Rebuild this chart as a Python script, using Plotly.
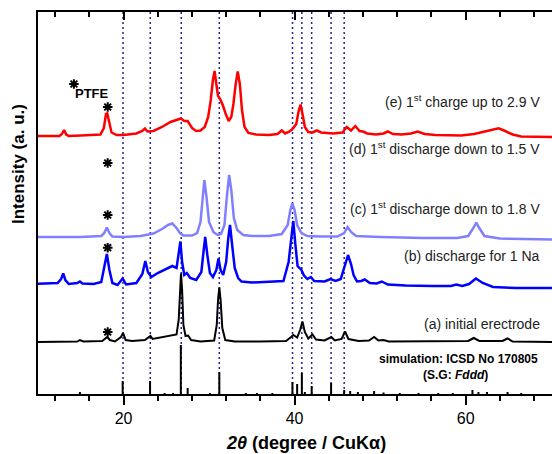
import plotly.graph_objects as go

# ---------------- data (2theta in degrees, intensity in a.u.) ----------------
e_x = [10, 12.5, 12.8, 13.05, 13.3, 13.6, 15, 17.3, 17.7, 17.95, 18.1, 18.3, 18.6, 19.2, 20, 21.5, 22.2, 22.5,
       22.8, 23.5, 24.5, 25.5, 26.0, 26.7, 27.1, 27.5, 28.0, 28.5, 29.0, 29.5, 29.9, 30.2, 30.45, 30.65, 30.85,
       31.05, 31.3, 31.6, 31.95, 32.3, 32.6, 32.85, 33.1, 33.35, 33.6, 33.85, 34.15, 34.6, 35.5, 37, 38.0, 38.5,
       38.9, 39.3, 39.7, 40.2, 40.45, 40.7, 40.95, 41.2, 41.6, 42.1, 42.6, 43.1, 44.5, 45.6, 46.1, 46.6, 47.1,
       47.6, 48.0, 48.5, 49.5, 50.4, 50.9, 51.5, 52.5, 53.6, 54.4, 55.2, 56.5, 58, 59.5, 61, 62, 63, 63.85,
       64.5, 65.5, 66.5, 68, 70.1]
e_y = [258, 258, 260, 264, 259.5, 258, 258.5, 259.5, 266, 280, 280.5, 272, 261.5, 259, 259, 260.5, 263, 265.5,
       262.5, 263, 267, 272, 273.5, 275.5, 273, 273, 266, 263, 263.5, 267, 277, 294, 314, 323, 310,
       298, 295, 289, 280, 273, 277, 290, 309, 322.5, 310, 284, 267, 261, 259.5, 259, 260, 263.5,
       260.5, 262, 264.5, 270, 282, 289.5, 279, 267, 262, 261.5, 263.5, 261.5, 260.5, 261.5, 267, 263.5, 268,
       263, 262.5, 260.5, 259.5, 260.5, 262.5, 260, 259.5, 260.5, 262.5, 260, 259, 258.5, 258.5, 260, 262, 264.5, 265.7,
       263.5, 259.5, 257.5, 257, 257]

c_x = [10, 15, 17.4, 17.75, 18.05, 18.35, 18.7, 20, 22, 23.5, 24.5, 25.2, 25.7, 26.2, 26.6, 27.0, 28.0, 28.6,
       29.0, 29.25, 29.45, 29.7, 30.0, 30.5, 31.0, 31.4, 31.8, 32.1, 32.35, 32.6, 32.9, 33.3, 34.0, 35, 37,
       38.5, 39.2, 39.5, 39.75, 40.0, 40.3, 40.8, 41.5, 43, 45, 45.8, 46.2, 46.6, 47.2, 50, 55, 59, 60.3,
       60.9, 61.25, 61.6, 62.2, 64, 70.1]
c_y = [157, 157, 158, 161, 166.5, 161, 157.5, 157, 158, 160.5, 165, 169, 170.5, 166, 161, 158.5, 158.5, 161,
       172, 199, 214, 197, 172, 162, 159, 160, 169, 199, 219, 204, 176, 164, 159, 158, 158,
       160, 169, 184, 190.5, 184, 169, 161, 158, 157.5, 157.5, 161, 167, 162, 158, 157, 156, 156, 158,
       166, 171.5, 166, 158, 155.5, 154.5]

b_x = [10, 12.3, 12.7, 12.95, 13.2, 13.6, 14.6, 14.9, 15.2, 16.5, 17.4, 17.75, 18.05, 18.35, 18.7, 19.3, 19.9,
       20.3, 21.5, 22.2, 22.55, 22.85, 23.25, 24.0, 25.0, 25.7, 26.2, 26.45, 26.65, 26.85, 27.1, 27.4, 27.8,
       28.5, 29.1, 29.35, 29.55, 29.8, 30.1, 30.45, 30.85, 31.1, 31.35, 31.65, 32.0, 32.25, 32.45, 32.7, 33.0,
       33.4, 33.8, 35, 37, 38.7, 39.3, 39.55, 39.85, 40.1, 40.35, 40.8, 41.1, 41.5, 41.9, 42.3, 43.5, 44.2,
       44.8, 45.4, 45.9, 46.25, 46.6, 46.9, 47.3, 47.8, 48.2, 48.8, 49.6, 50.2, 50.9, 53, 56, 58.3, 58.9,
       59.6, 60.4, 61.2, 62.0, 63.2, 66, 70.1]
b_y = [110.3, 111, 115, 120.5, 114, 110, 111, 112.5, 110.5, 110, 112, 126, 140, 124, 111, 109, 115.5,
       109.5, 111, 120, 133, 122, 117, 121, 125.5, 128, 126, 139, 152.5, 132, 119, 121, 116,
       114, 122, 142, 157, 139, 121, 117, 124, 135.5, 124, 119, 132, 156, 169, 149, 126,
       116, 112.5, 111.5, 112, 113, 132, 154, 173, 149, 128, 124, 118.5, 115, 117, 113, 112.5, 115,
       113, 115, 130, 139, 130, 119, 112.5, 113, 114.5, 111, 110.5, 112.5, 109.5, 108.5, 108, 108, 109.5,
       108, 110, 115.5, 111, 107, 106, 106]

a_x = [10, 12, 14.6, 14.9, 15.3, 17.5, 17.85, 18.1, 18.4, 19.0, 19.7, 19.95, 20.25, 21, 22.5, 22.9, 23.15,
       23.4, 24.5, 25.5, 26.2, 26.45, 26.6, 26.72, 26.85, 27.0, 27.25, 27.55, 27.9, 29, 30.6, 30.9, 31.05,
       31.2, 31.35, 31.55, 31.9, 33, 36, 39, 39.6, 39.85, 40.3, 40.65, 40.92, 41.2, 41.6, 42.1, 42.5, 43.5,
       44.3, 44.7, 45.5, 45.9, 46.3, 47.5, 48.7, 49.3, 49.8, 50.4, 51, 55, 60.3, 60.95, 61.6, 64.3, 64.9,
       65.5, 70.1]
a_y = [52, 52, 52.5, 54, 52.5, 53, 55.5, 57, 54, 52.5, 57, 61, 54, 53, 54, 56, 58,
       55, 56.5, 58, 59.5, 74, 109, 120.5, 104, 69, 58, 58.5, 54, 52.5, 53.5, 69, 94,
       106.5, 94, 66, 54, 52.5, 52.5, 53, 57, 59, 56.5, 64, 72.5, 62, 55.5, 59.5, 54.5, 53.5,
       57, 53.5, 55, 62.5, 55, 53, 53.5, 57, 53.5, 54, 52.5, 52.5, 53, 56, 53, 53, 55.5,
       52.5, 52]

# simulated pattern (ICSD 170805): stick positions and heights
sim_pos = [14.9, 19.9, 23.1, 24.8, 25.8, 26.7, 27.5, 30.1, 31.2, 34.3, 35.6, 37.4, 39.75, 40.3, 40.85, 41.2,
           42.0, 44.27, 45.8, 46.5, 47.4, 49.3, 50.4, 52.3, 54.5, 56.8, 58.5, 60.8, 61.5, 62.5, 64.9, 66.5]
sim_h = [2, 13, 13, 1, 1, 49, 6, 1, 22, 1, 1, 1, 12, 10, 21, 2,
         8, 11, 4, 3, 2, 3, 1.5, 1, 1, 1, 1, 4, 2, 2, 2, 1]

# reference reflections marked by dotted lines
ref_lines = [19.94, 23.13, 26.75, 31.2, 39.76, 40.85, 42.0, 44.27, 45.8]

# PTFE peak markers
ptfe_x = [18.15, 18.15, 18.15, 18.15, 18.15, 14.2]
ptfe_y = [287, 231, 179, 146.3, 62, 310]

labels = ["(e) 1<sup>st</sup> charge up to 2.9 V", "(d) 1<sup>st</sup> discharge down to 1.5 V",
          "(c) 1<sup>st</sup> discharge down to 1.8 V", "(b) discharge for 1 Na", "(a) initial erectrode"]
label_y = [293, 246, 186, 138, 70.3]

FONT = "Arial, Liberation Sans, sans-serif"

fig = go.Figure()

# sticks
sx, sy = [], []
for p, h in zip(sim_pos, sim_h):
    sx += [p, p, None]
    sy += [0, h, None]
fig.add_trace(go.Scatter(x=sx, y=sy, mode="lines", line=dict(color="black", width=2), hoverinfo="skip"))

fig.add_trace(go.Scatter(x=a_x, y=a_y, mode="lines", line=dict(color="black", width=2)))
fig.add_trace(go.Scatter(x=b_x, y=b_y, mode="lines", line=dict(color="#0000ff", width=2.5)))
fig.add_trace(go.Scatter(x=c_x, y=c_y, mode="lines", line=dict(color="#8080ff", width=2.5)))
fig.add_trace(go.Scatter(x=e_x, y=e_y, mode="lines", line=dict(color="#ff0000", width=2.5)))

fig.add_trace(go.Scatter(x=ptfe_x, y=ptfe_y, mode="markers",
                         marker=dict(symbol="asterisk-open", size=8, color="black",
                                     line=dict(color="black", width=2))))

# dummy trace for top axis
fig.add_trace(go.Scatter(x=[10], y=[0], xaxis="x2", mode="markers", marker=dict(opacity=0), hoverinfo="skip"))

for v in ref_lines:
    fig.add_shape(type="line", xref="x", yref="paper", x0=v, x1=v, y0=0, y1=1,
                  line=dict(color="#22229a", width=1.5, dash="2px,3px"), layer="below")

for t, yv in zip(labels, label_y):
    fig.add_annotation(x=68.95, y=yv, xref="x", yref="y", text=t, showarrow=False, xanchor="right",
                       yanchor="middle", font=dict(family=FONT, size=14, color="#222"))

fig.add_annotation(x=59.15, y=35.3, xref="x", yref="y", text="<b>simulation: ICSD No 170805</b>",
                   showarrow=False, xanchor="center", yanchor="middle",
                   font=dict(family=FONT, size=12, color="black"))
fig.add_annotation(x=58.85, y=19, xref="x", yref="y", text="<b>(S.G: <i>Fddd</i>)</b>",
                   showarrow=False, xanchor="center", yanchor="middle",
                   font=dict(family=FONT, size=12, color="black"))
fig.add_annotation(x=14.05, y=301, xref="x", yref="y", text="<b>PTFE</b>", showarrow=False,
                   xanchor="left", yanchor="middle", font=dict(family=FONT, size=13, color="black"))

fig.add_annotation(x=(18 - 38) / 514, y=(394 - 164) / 382, xref="paper", yref="paper",
                   text="<b>Intensity (a. u.)</b>", textangle=-90, showarrow=False,
                   xanchor="center", yanchor="middle",
                   font=dict(family=FONT, size=17, color="black"))
fig.add_annotation(x=(306 - 38) / 514, y=(394 - 443) / 382, xref="paper", yref="paper",
                   text="<b><i>2θ</i> (degree / CuKα)</b>", showarrow=False,
                   xanchor="center", yanchor="middle",
                   font=dict(family=FONT, size=18, color="black"))

axis_common = dict(range=[10, 70.1], showgrid=False, zeroline=False, showline=True, linecolor="black",
                   linewidth=1.5, tickvals=[20, 40, 60], tickwidth=1.5, tickcolor="black")
fig.update_layout(
    width=552, height=454,
    margin=dict(l=38, r=0, t=12, b=60),
    paper_bgcolor="white", plot_bgcolor="white",
    showlegend=False,
    xaxis=dict(**axis_common, ticks="outside", ticklen=9,
               minor=dict(ticks="outside", ticklen=5, dtick=4, tick0=0, tickwidth=1.5, tickcolor="black"),
               tickfont=dict(family=FONT, size=16, color="black"), tickprefix="<b>", ticksuffix="</b>"),
    xaxis2=dict(**axis_common, overlaying="x", side="top", matches="x", ticks="inside", ticklen=8,
                minor=dict(ticks="inside", ticklen=5, dtick=4, tick0=0, tickwidth=1.5, tickcolor="black"),
                showticklabels=False),
    yaxis=dict(range=[0, 382], showgrid=False, zeroline=False, showline=True, linecolor="black",
               linewidth=1.5, ticks="", showticklabels=False),
)

fig.write_html("out.html", config={"displayModeBar": False},
               post_script="document.body.style.margin='0';document.body.style.overflow='hidden';")
